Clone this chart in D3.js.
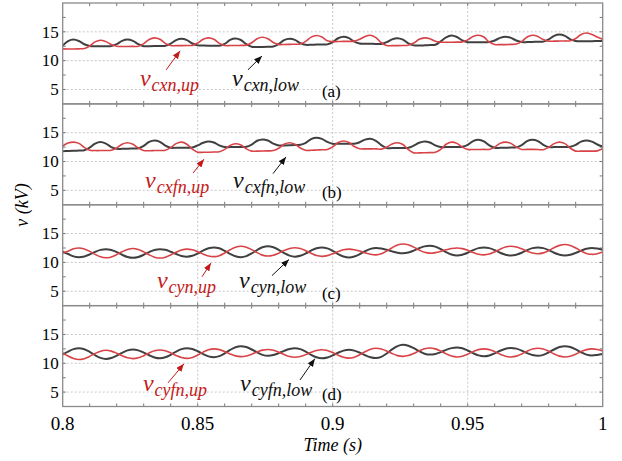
<!DOCTYPE html>
<html>
<head>
<meta charset="utf-8">
<script src="https://cdn.jsdelivr.net/npm/d3@7/dist/d3.min.js"></script>
<style>
  body { margin: 0; background: #fff; }
  svg text { font-family: "Liberation Serif", "DejaVu Serif", serif; }
</style>
</head>
<body>
<div id="chart"></div>
<script>
// sampling of every series: t = 0.8 s + i * 2 ms
var tStart = 0.8, tStep = 0.002;

var xTicks = [0.8, 0.85, 0.9, 0.95, 1];
var xTickLabels = ["0.8", "0.85", "0.9", "0.95", "1"];
var yTicks = [5, 10, 15];
var panelTags = ["(a)", "(b)", "(c)", "(d)"];
var upNames = ["cxn,up", "cxfn,up", "cyn,up", "cyfn,up"];
var lowNames = ["cxn,low", "cxfn,low", "cyn,low", "cyfn,low"];

// (a) v_cxn
var vCxnUp = [12.05, 12.03, 12.03, 12.05, 12.1, 12.55, 13.25, 13.55, 13.3, 12.8,
  12.5, 12.45, 12.45, 12.47, 12.5, 12.95, 13.68, 13.95, 13.7, 13.0,
  12.62, 12.6, 12.6, 12.62, 12.65, 13.05, 13.7, 13.95, 13.7, 13.0,
  12.62, 12.62, 12.62, 12.65, 12.68, 13.1, 13.8, 14.05, 13.8, 13.15,
  12.8, 12.8, 12.82, 12.85, 12.88, 13.35, 14.08, 14.36, 14.1, 13.45,
  13.3, 13.32, 13.35, 13.35, 13.38, 13.7, 14.2, 14.4, 14.0, 13.1,
  12.62, 12.6, 12.6, 12.62, 12.68, 13.05, 13.7, 13.95, 13.8, 13.35,
  13.2, 13.2, 13.2, 13.22, 13.25, 13.6, 14.2, 14.4, 14.1, 13.2,
  12.8, 12.78, 12.78, 12.82, 12.88, 13.3, 14.1, 14.4, 14.2, 13.65,
  13.38, 13.38, 13.4, 13.42, 13.45, 13.85, 14.55, 14.8, 14.55, 14.1, 13.7];
var vCxnLow = [12.6, 13.4, 13.66, 13.4, 12.85, 12.55, 12.5, 12.5, 12.5, 12.52,
  12.86, 13.44, 13.66, 13.44, 12.86, 12.5, 12.5, 12.52, 12.55, 12.58,
  12.97, 13.56, 13.78, 13.56, 12.97, 12.65, 12.62, 12.6, 12.6, 12.6,
  12.9, 13.6, 13.84, 13.58, 12.85, 12.4, 12.38, 12.38, 12.4, 12.45,
  12.85, 13.55, 13.78, 13.6, 13.05, 12.75, 12.75, 12.78, 12.8, 12.82,
  13.2, 13.88, 14.13, 13.9, 13.3, 12.97, 12.95, 12.93, 12.9, 12.9,
  13.2, 13.7, 13.9, 13.65, 13.0, 12.65, 12.62, 12.65, 12.7, 12.75,
  13.35, 14.05, 14.36, 14.1, 13.5, 13.2, 13.2, 13.2, 13.2, 13.22,
  13.5, 13.95, 14.13, 13.95, 13.5, 13.22, 13.22, 13.25, 13.28, 13.3,
  13.68, 14.3, 14.53, 14.3, 13.7, 13.4, 13.38, 13.38, 13.38, 13.4, 13.42];

// (b) v_cxfn
var vCxfnUp = [12.7, 13.2, 13.37, 13.15, 12.45, 11.95, 11.9, 11.9, 11.92, 11.95,
  12.35, 13.0, 13.26, 13.0, 12.35, 11.9, 11.88, 11.9, 11.92, 11.95,
  12.4, 13.1, 13.37, 13.0, 12.15, 11.62, 11.6, 11.62, 11.65, 11.7,
  12.1, 12.8, 13.08, 12.85, 12.2, 11.8, 11.8, 11.82, 11.85, 11.9,
  12.3, 13.0, 13.26, 13.0, 12.35, 11.95, 11.95, 12.0, 12.05, 12.1,
  12.55, 13.3, 13.55, 13.3, 12.6, 12.2, 12.2, 12.2, 12.2, 12.15,
  12.5, 13.05, 13.26, 12.95, 12.05, 11.5, 11.5, 11.52, 11.55, 11.6,
  12.1, 13.0, 13.37, 13.15, 12.5, 12.1, 12.08, 12.08, 12.1, 12.1,
  12.5, 13.15, 13.37, 13.15, 12.5, 12.1, 12.1, 12.1, 12.08, 12.05,
  12.45, 13.1, 13.37, 13.1, 12.3, 11.8, 11.8, 11.8, 11.8, 11.85, 12.2];
var vCxfnLow = [11.8, 11.82, 11.85, 11.9, 11.95, 12.4, 13.1, 13.37, 13.1, 12.5,
  12.2, 12.2, 12.22, 12.25, 12.28, 12.7, 13.4, 13.66, 13.42, 12.75,
  12.38, 12.38, 12.38, 12.4, 12.42, 12.8, 13.25, 13.49, 13.3, 12.8,
  12.5, 12.5, 12.5, 12.52, 12.55, 12.95, 13.6, 13.84, 13.65, 13.1,
  12.79, 12.8, 12.82, 12.85, 12.9, 13.25, 13.9, 14.13, 13.92, 13.4,
  13.08, 13.08, 13.08, 13.1, 13.1, 13.35, 13.8, 13.95, 13.6, 12.85,
  12.35, 12.33, 12.33, 12.35, 12.38, 12.75, 13.25, 13.49, 13.3, 12.8,
  12.5, 12.5, 12.5, 12.52, 12.55, 12.9, 13.55, 13.78, 13.5, 12.8,
  12.38, 12.38, 12.4, 12.42, 12.45, 12.85, 13.55, 13.78, 13.55, 12.9,
  12.5, 12.5, 12.5, 12.52, 12.55, 12.9, 13.45, 13.66, 13.45, 12.95, 12.6];

// (c) v_cyn
var vCynUp = [11.6, 11.95, 12.35, 12.5, 12.34, 11.91, 11.39, 10.96, 10.8,
  10.95, 11.35, 11.85, 12.25, 12.4, 12.24, 11.83, 11.32, 10.91, 10.75,
  10.9, 11.29, 11.77, 12.15, 12.3, 12.18, 11.85, 11.45, 11.12, 11.0,
  11.17, 11.62, 12.18, 12.63, 12.8, 12.64, 12.21, 11.69, 11.26, 11.1,
  11.24, 11.6, 12.05, 12.41, 12.55, 12.41, 12.03, 11.57, 11.19, 11.05,
  11.17, 11.48, 11.87, 12.18, 12.3, 12.2, 11.96, 11.65, 11.4, 11.3,
  11.48, 11.96, 12.54, 13.02, 13.2, 13.05, 12.65, 12.15, 11.75, 11.6,
  11.69, 11.91, 12.19, 12.41, 12.5, 12.39, 12.09, 11.71, 11.41, 11.3,
  11.44, 11.82, 12.28, 12.66, 12.8, 12.68, 12.35, 11.95, 11.62, 11.5,
  11.65, 12.05, 12.55, 12.95, 13.1, 12.94, 12.51, 11.99, 11.56, 11.4,
  11.51, 11.81];
var vCynLow = [11.85, 11.45, 11.05, 10.9, 11.03, 11.38, 11.82, 12.17, 12.3,
  12.16, 11.78, 11.32, 10.94, 10.8, 10.94, 11.32, 11.78, 12.16, 12.3,
  12.18, 11.85, 11.45, 11.12, 11.0, 11.15, 11.55, 12.05, 12.45, 12.6,
  12.44, 12.01, 11.49, 11.06, 10.9, 11.08, 11.56, 12.14, 12.62, 12.8,
  12.63, 12.18, 11.62, 11.17, 11.0, 11.15, 11.55, 12.05, 12.45, 12.6,
  12.43, 12.0, 11.45, 11.02, 10.85, 11.01, 11.42, 11.93, 12.34, 12.5,
  12.41, 12.19, 11.91, 11.69, 11.6, 11.72, 12.05, 12.45, 12.78, 12.9,
  12.74, 12.31, 11.79, 11.36, 11.2, 11.33, 11.68, 12.12, 12.47, 12.6,
  12.47, 12.12, 11.68, 11.33, 11.2, 11.33, 11.68, 12.12, 12.47, 12.6,
  12.47, 12.12, 11.68, 11.33, 11.2, 11.32, 11.65, 12.05, 12.38, 12.5,
  12.4, 12.2];

// (d) v_cyfn
var vCyfnUp = [11.8, 11.25, 10.82, 10.65, 10.8, 11.2, 11.7, 12.1, 12.25,
  12.11, 11.75, 11.3, 10.94, 10.8, 10.94, 11.32, 11.78, 12.16, 12.3,
  12.16, 11.8, 11.35, 10.99, 10.85, 11.01, 11.42, 11.93, 12.34, 12.5,
  12.37, 12.03, 11.62, 11.28, 11.15, 11.27, 11.58, 11.97, 12.28, 12.4,
  12.27, 11.93, 11.52, 11.18, 11.05, 11.17, 11.5, 11.9, 12.23, 12.35,
  12.21, 11.85, 11.4, 11.04, 10.9, 11.06, 11.49, 12.01, 12.44, 12.6,
  12.47, 12.12, 11.68, 11.33, 11.2, 11.34, 11.7, 12.15, 12.51, 12.65,
  12.5, 12.12, 11.63, 11.25, 11.1, 11.23, 11.58, 12.02, 12.37, 12.5,
  12.37, 12.02, 11.58, 11.23, 11.1, 11.24, 11.62, 12.08, 12.46, 12.6,
  12.46, 12.08, 11.62, 11.24, 11.1, 11.23, 11.58, 12.02, 12.37, 12.5,
  12.4, 12.15];
var vCyfnLow = [11.55, 12.03, 12.46, 12.62, 12.44, 11.98, 11.4, 10.94, 10.76,
  10.91, 11.32, 11.82, 12.23, 12.38, 12.24, 11.86, 11.39, 11.01, 10.87,
  11.04, 11.47, 12.02, 12.45, 12.62, 12.47, 12.08, 11.59, 11.2, 11.05,
  11.23, 11.71, 12.31, 12.79, 12.97, 12.81, 12.39, 11.88, 11.46, 11.3,
  11.43, 11.76, 12.16, 12.49, 12.62, 12.45, 12.02, 11.47, 11.04, 10.87,
  11.01, 11.37, 11.83, 12.19, 12.33, 12.19, 11.84, 11.39, 11.04, 10.9,
  11.12, 11.69, 12.41, 12.98, 13.2, 13.04, 12.61, 12.09, 11.66, 11.5,
  11.62, 11.93, 12.32, 12.63, 12.75, 12.6, 12.22, 11.75, 11.37, 11.22,
  11.36, 11.72, 12.17, 12.53, 12.67, 12.54, 12.2, 11.77, 11.43, 11.3,
  11.46, 11.88, 12.39, 12.81, 12.97, 12.82, 12.41, 11.91, 11.5, 11.35,
  11.45, 11.6];

var upSeries = [vCxnUp, vCxfnUp, vCynUp, vCyfnUp];
var lowSeries = [vCxnLow, vCxfnLow, vCynLow, vCyfnLow];

// where the labels and arrows sit, in (time, kV) of each panel
var notes = [
  { up: [0.8286, 5.6], upArrow: [0.8383, 8.4, 0.8435, 11.7],
    low: [0.8627, 5.6], lowArrow: [0.8686, 8.4, 0.8738, 10.8], tag: [0.896, 3.7] },
  { up: [0.8305, 5.4], upArrow: [0.8483, 8.0, 0.8523, 10.4],
    low: [0.8631, 5.4], lowArrow: [0.8779, 7.9, 0.8827, 10.8], tag: [0.896, 3.7] },
  { up: [0.8349, 5.5], upArrow: [0.8516, 7.5, 0.8549, 9.9],
    low: [0.8653, 5.5], lowArrow: [0.8775, 7.7, 0.8838, 10.5], tag: [0.896, 3.7] },
  { up: [0.8297, 5.2], upArrow: [0.8390, 6.6, 0.8449, 9.9],
    low: [0.8657, 5.2], lowArrow: [0.8879, 7.1, 0.8934, 10.8], tag: [0.896, 3.65] }
];

var WIDTH = 622, HEIGHT = 461;
var LEFT = 62.7, RIGHT = 602.7, TOP = 3, BOTTOM = 406.5;
var PANEL_H = (BOTTOM - TOP) / 4;
var RED = "#d84347", DARK = "#404040", LABEL_RED = "#c41a1a";

var svg = d3.select("#chart").append("svg")
    .attr("width", WIDTH)
    .attr("height", HEIGHT);

var defs = svg.append("defs");
[["head-red", LABEL_RED], ["head-black", "#111"]].forEach(function (m) {
    defs.append("marker")
        .attr("id", m[0])
        .attr("viewBox", "0 0 10 8")
        .attr("refX", 10).attr("refY", 4)
        .attr("markerWidth", 8).attr("markerHeight", 6.5)
        .attr("markerUnits", "userSpaceOnUse")
        .attr("orient", "auto")
        .append("path")
        .attr("d", "M0,0L10,4L0,8z")
        .attr("fill", m[1]);
});

var x = d3.scaleLinear().domain([0.8, 1]).range([LEFT, RIGHT]);
var y = d3.scaleLinear().domain([2.5, 20]).range([PANEL_H, 0]);

var minorX = d3.range(81, 100).map(function (d) { return d / 100; });
var minorY = [5, 7.5, 10, 12.5, 15, 17.5];

var line = d3.line()
    .x(function (d, i) { return x(tStart + i * tStep); })
    .y(function (d) { return y(d); })
    .curve(d3.curveCatmullRom.alpha(0.5));

function drawLabel(g, pos, name, color) {
    var t = g.append("text")
        .attr("x", x(pos[0]))
        .attr("y", y(pos[1]))
        .attr("fill", color)
        .style("font-style", "italic");
    t.append("tspan").style("font-size", "24px").text("v");
    t.append("tspan").attr("dy", 5).attr("dx", 1).style("font-size", "18px").text(name);
}

function drawArrow(g, a, color, head) {
    g.append("line")
        .attr("x1", x(a[0])).attr("y1", y(a[1]))
        .attr("x2", x(a[2])).attr("y2", y(a[3]))
        .attr("stroke", color)
        .attr("stroke-width", 1)
        .attr("marker-end", "url(#" + head + ")");
}

upSeries.forEach(function (up, p) {
    var g = svg.append("g")
        .attr("transform", "translate(0," + (TOP + p * PANEL_H) + ")");

    // dotted grid
    g.selectAll(".hgrid").data(yTicks).enter().append("line")
        .attr("x1", LEFT).attr("x2", RIGHT)
        .attr("y1", function (d) { return y(d); })
        .attr("y2", function (d) { return y(d); })
        .attr("stroke", "#c8c8c8").attr("stroke-dasharray", "2,2");
    g.selectAll(".vgrid").data(xTicks.slice(1, 4)).enter().append("line")
        .attr("x1", function (d) { return x(d); })
        .attr("x2", function (d) { return x(d); })
        .attr("y1", 0).attr("y2", PANEL_H)
        .attr("stroke", "#c8c8c8").attr("stroke-dasharray", "2,2");

    // little inward ticks on all four sides
    g.selectAll(".tt").data(minorX).enter().append("line")
        .attr("x1", function (d) { return x(d); })
        .attr("x2", function (d) { return x(d); })
        .attr("y1", 0).attr("y2", 3)
        .attr("stroke", "#777");
    g.selectAll(".tb").data(minorX).enter().append("line")
        .attr("x1", function (d) { return x(d); })
        .attr("x2", function (d) { return x(d); })
        .attr("y1", PANEL_H - 3).attr("y2", PANEL_H)
        .attr("stroke", "#777");
    g.selectAll(".tl").data(minorY).enter().append("line")
        .attr("x1", LEFT).attr("x2", LEFT + 3)
        .attr("y1", function (d) { return y(d); })
        .attr("y2", function (d) { return y(d); })
        .attr("stroke", "#777");
    g.selectAll(".tr").data(minorY).enter().append("line")
        .attr("x1", RIGHT - 3).attr("x2", RIGHT)
        .attr("y1", function (d) { return y(d); })
        .attr("y2", function (d) { return y(d); })
        .attr("stroke", "#777");

    g.append("path")
        .datum(lowSeries[p])
        .attr("d", line)
        .attr("fill", "none")
        .attr("stroke", DARK)
        .attr("stroke-width", 2);
    g.append("path")
        .datum(up)
        .attr("d", line)
        .attr("fill", "none")
        .attr("stroke", RED)
        .attr("stroke-width", 1.6);

    g.append("rect")
        .attr("x", LEFT).attr("y", 0)
        .attr("width", RIGHT - LEFT).attr("height", PANEL_H)
        .attr("fill", "none")
        .attr("stroke", "#8a8a8a")
        .attr("stroke-width", 1.3);

    g.selectAll(".ylab").data(yTicks).enter().append("text")
        .attr("x", LEFT - 4)
        .attr("y", function (d) { return y(d); })
        .attr("dy", "0.34em")
        .attr("text-anchor", "end")
        .style("font-size", "17px")
        .text(function (d) { return d; });

    var n = notes[p];
    drawLabel(g, n.up, upNames[p], LABEL_RED);
    drawArrow(g, n.upArrow, LABEL_RED, "head-red");
    drawLabel(g, n.low, lowNames[p], "#111");
    drawArrow(g, n.lowArrow, "#111", "head-black");

    g.append("text")
        .attr("x", x(n.tag[0]))
        .attr("y", y(n.tag[1]))
        .style("font-size", "17px")
        .text(panelTags[p]);
});

// time axis under the last panel
svg.selectAll(".xlab").data(xTicks).enter().append("text")
    .attr("x", function (d) { return x(d); })
    .attr("y", 430)
    .attr("text-anchor", "middle")
    .style("font-size", "19px")
    .text(function (d, i) { return xTickLabels[i]; });

svg.append("text")
    .attr("x", x(0.9))
    .attr("y", 451)
    .attr("text-anchor", "middle")
    .style("font-size", "18px")
    .style("font-style", "italic")
    .text("Time (s)");

svg.append("text")
    .attr("transform", "translate(28,205)rotate(-90)")
    .attr("text-anchor", "middle")
    .style("font-size", "18px")
    .style("font-style", "italic")
    .text("v (kV)");
</script>
</body>
</html>
